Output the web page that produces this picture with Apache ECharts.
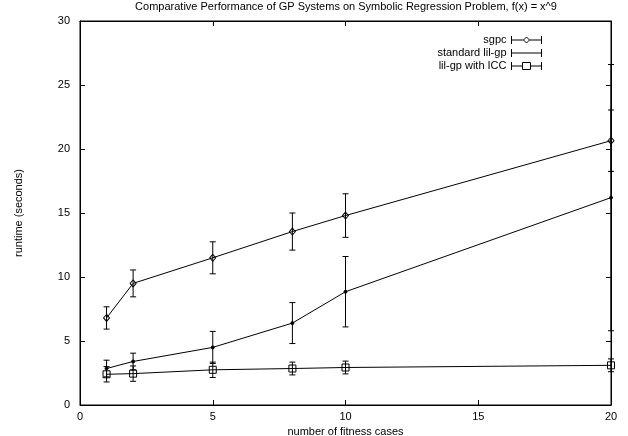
<!DOCTYPE html>
<html>
<head>
<meta charset="utf-8">
<script src="https://cdn.jsdelivr.net/npm/echarts@6/dist/echarts.min.js"></script>
<style>html,body{margin:0;padding:0;background:#fff}#c{width:628px;height:436px}</style>
</head>
<body>
<div id="c"></div>
<script>
const fitnessCases = [1, 2, 5, 8, 10, 20];
const sgpcMean = [6.8, 9.5, 11.5, 13.55, 14.8, 20.65];
const sgpcErr = [0.87, 1.05, 1.25, 1.45, 1.7, 2.4];
const standardMean = [2.85, 3.4, 4.5, 6.4, 8.85, 16.2];
const standardErr = [0.65, 0.65, 1.25, 1.6, 2.75, 10.4];
const iccMean = [2.4, 2.45, 2.75, 2.85, 2.93, 3.1];
const iccErr = [0.6, 0.6, 0.6, 0.5, 0.5, 0.5];
const xTicks = [0, 5, 10, 15, 20];
const yTicks = [0, 5, 10, 15, 20, 25, 30];

const FONT = '"Liberation Sans", Arial, sans-serif';
const chart = echarts.init(document.getElementById('c'), null, {renderer: 'canvas'});

function pairs(means) { return fitnessCases.map((x, i) => [x, means[i]]); }
function bars(means, errs) { return fitnessCases.map((x, i) => [x, means[i] - errs[i], means[i] + errs[i]]); }
function lastOnly(ticks) { return ticks.map((t, i) => i === ticks.length - 1 ? '#000' : 'rgba(0,0,0,0)'); }

function errRender(params, api) {
  const x = api.value(0), lo = api.value(1), hi = api.value(2);
  const a = api.coord([x, lo]), b = api.coord([x, hi]);
  const w = 3;
  const st = {stroke: '#000', lineWidth: 1};
  return {type: 'group', children: [
    {type: 'line', shape: {x1: a[0], y1: a[1], x2: b[0], y2: b[1]}, style: st},
    {type: 'line', shape: {x1: a[0] - w, y1: a[1], x2: a[0] + w, y2: a[1]}, style: st},
    {type: 'line', shape: {x1: b[0] - w, y1: b[1], x2: b[0] + w, y2: b[1]}, style: st}
  ]};
}

function errSeries(name, means, errs, ax) {
  return {name: name, type: 'custom', renderItem: errRender, data: bars(means, errs),
    xAxisIndex: ax, yAxisIndex: ax,
    encode: {x: 0, y: [1, 2]}, clip: false, z: 3, silent: true};
}

function lineSeries(name, means, symbol, size, ax) {
  return {name: name, type: 'line', data: pairs(means), symbol: symbol, symbolSize: size,
    xAxisIndex: ax, yAxisIndex: ax,
    showAllSymbol: true, animation: false, z: 4,
    lineStyle: {color: '#000', width: 1},
    itemStyle: {color: symbol === 'circle' ? '#000' : 'rgba(0,0,0,0)', borderColor: '#000', borderWidth: 1}};
}

function axisCommon() {
  return {
    axisLine: {show: true, onZero: false, lineStyle: {color: '#000', width: 1}},
    axisTick: {show: true, inside: true, length: 5, lineStyle: {color: '#000', width: 1}}
  };
}

chart.setOption({
  animation: false,
  backgroundColor: '#fff',
  textStyle: {fontFamily: FONT},
  title: {
    text: 'Comparative Performance of GP Systems on Symbolic Regression Problem, f(x) = x^9',
    left: 346, top: 1, textAlign: 'center', padding: 0,
    textStyle: {fontFamily: FONT, fontSize: 11, fontWeight: 'normal', color: '#000'}
  },
  legend: {
    orient: 'vertical', right: 86, top: 34, align: 'right',
    itemWidth: 30, itemHeight: 8, itemGap: 1, padding: 0,
    textStyle: {fontFamily: FONT, fontSize: 11, color: '#000', lineHeight: 12},
    itemStyle: {color: 'rgba(0,0,0,0)', borderColor: '#000', borderWidth: 1},
    data: [
      {name: 'sgpc', icon: 'path://M0,0L0,8M0,4L12,4M18,4L30,4M30,0L30,8M12,4L15,1L18,4L15,7Z'},
      {name: 'standard lil-gp', icon: 'path://M0,0L0,8M0,4L30,4M30,0L30,8'},
      {name: 'lil-gp with ICC', icon: 'path://M0,0L0,8M0,4L11,4M19,4L30,4M30,0L30,8M11,0.5L19,0.5L19,7.5L11,7.5Z'}
    ]
  },
  grid: {left: 80, right: 17, top: 21, bottom: 31, outerBoundsMode: 'none',
    show: true, borderColor: '#000', borderWidth: 1, backgroundColor: 'rgba(0,0,0,0)'},
  xAxis: [
    Object.assign({type: 'value', position: 'bottom', min: xTicks[0], max: xTicks[xTicks.length - 1], interval: 5,
      name: 'number of fitness cases', nameLocation: 'middle', nameGap: 17,
      nameTextStyle: {fontFamily: FONT, fontSize: 11, color: '#000'},
      splitLine: {show: true, lineStyle: {color: lastOnly(xTicks), width: 1}},
      axisLabel: {fontFamily: FONT, fontSize: 11, color: '#000', margin: 6}}, axisCommon()),
    Object.assign({type: 'value', position: 'top', min: xTicks[0], max: xTicks[xTicks.length - 1], interval: 5,
      splitLine: {show: false},
      axisLabel: {show: false}}, axisCommon())
  ],
  yAxis: [
    Object.assign({type: 'value', position: 'left', min: yTicks[0], max: yTicks[yTicks.length - 1], interval: 5,
      name: 'runtime (seconds)', nameLocation: 'middle', nameGap: 56, nameRotate: 90,
      nameTextStyle: {fontFamily: FONT, fontSize: 11, color: '#000'},
      splitLine: {show: true, lineStyle: {color: lastOnly(yTicks), width: 1}},
      axisLabel: {fontFamily: FONT, fontSize: 11, color: '#000', margin: 10}}, axisCommon()),
    Object.assign({type: 'value', position: 'right', min: yTicks[0], max: yTicks[yTicks.length - 1], interval: 5,
      splitLine: {show: false},
      axisLabel: {show: false}}, axisCommon())
  ],
  series: [
    errSeries('sgpc-err', sgpcMean, sgpcErr, 0),
    errSeries('standard-err', standardMean, standardErr, 0),
    errSeries('icc-err', iccMean, iccErr, 1),
    lineSeries('sgpc', sgpcMean, 'diamond', [6, 7], 0),
    lineSeries('standard lil-gp', standardMean, 'circle', 3, 0),
    lineSeries('lil-gp with ICC', iccMean, 'rect', 7, 1)
  ]
});
</script>
</body>
</html>
